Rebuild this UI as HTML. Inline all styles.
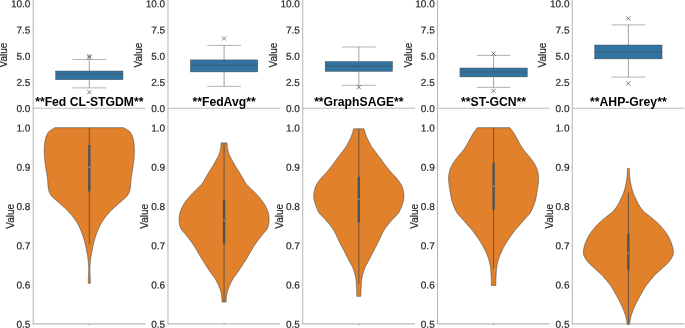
<!DOCTYPE html>
<html><head><meta charset="utf-8"><title>Chart</title>
<style>html,body{margin:0;padding:0;background:#fff;overflow:hidden}svg{display:block}</style>
</head><body>
<svg width="685" height="328" viewBox="0 0 685 328" font-family="'Liberation Sans', Arial, sans-serif">
<rect width="685" height="328" fill="#fff"/>
<g>
<path d="M33.22 0V324.4" stroke="#b4b4b4" stroke-width="1.0" fill="none"/>
<path d="M33.22 108.3H145.42M33.22 323.9H145.42" stroke="#bcbcbc" stroke-width="1.1" fill="none"/>
<clipPath id="c0"><rect x="33.22" y="108.3" width="112.2" height="216.5"/></clipPath>
<g clip-path="url(#c0)">
<path d="M54.92 127.7 L54.2 128.14 L53.46 128.58 L52.7 129.01 L51.95 129.45 L51.22 129.89 L50.53 130.34 L49.89 130.81 L49.32 131.3 L48.82 131.8 L48.37 132.31 L47.97 132.83 L47.61 133.36 L47.29 133.9 L46.98 134.48 L46.7 135.07 L46.42 135.7 L46.16 136.37 L45.93 137.07 L45.72 137.81 L45.53 138.56 L45.36 139.33 L45.2 140.1 L45.05 140.86 L44.92 141.6 L44.8 142.33 L44.69 143.05 L44.6 143.78 L44.53 144.5 L44.46 145.22 L44.41 145.95 L44.36 146.67 L44.32 147.4 L44.29 148.13 L44.27 148.87 L44.26 149.61 L44.26 150.35 L44.27 151.09 L44.28 151.83 L44.3 152.57 L44.32 153.3 L44.34 154.03 L44.36 154.75 L44.39 155.48 L44.42 156.2 L44.46 156.92 L44.5 157.65 L44.56 158.37 L44.62 159.1 L44.7 159.84 L44.79 160.6 L44.89 161.37 L45 162.13 L45.11 162.89 L45.22 163.62 L45.33 164.33 L45.42 165 L45.5 165.63 L45.58 166.23 L45.65 166.79 L45.72 167.34 L45.79 167.88 L45.86 168.41 L45.94 168.95 L46.02 169.5 L46.11 170.05 L46.21 170.57 L46.31 171.1 L46.41 171.62 L46.51 172.15 L46.62 172.7 L46.72 173.28 L46.82 173.9 L46.92 174.56 L47.03 175.25 L47.14 175.97 L47.24 176.71 L47.35 177.46 L47.45 178.21 L47.54 178.96 L47.62 179.7 L47.69 180.43 L47.73 181.17 L47.77 181.91 L47.81 182.65 L47.84 183.39 L47.89 184.13 L47.94 184.87 L48.02 185.6 L48.11 186.35 L48.22 187.12 L48.33 187.91 L48.45 188.68 L48.58 189.43 L48.72 190.15 L48.87 190.81 L49.02 191.4 L49.18 191.91 L49.34 192.35 L49.52 192.73 L49.7 193.08 L49.88 193.41 L50.08 193.72 L50.3 194.05 L50.52 194.4 L50.73 194.75 L50.92 195.06 L51.1 195.37 L51.3 195.68 L51.54 196 L51.84 196.37 L52.23 196.8 L52.72 197.3 L53.33 197.89 L54.06 198.54 L54.87 199.26 L55.74 200.01 L56.65 200.79 L57.57 201.58 L58.46 202.35 L59.32 203.1 L60.16 203.84 L61.03 204.6 L61.9 205.37 L62.77 206.13 L63.62 206.89 L64.44 207.62 L65.21 208.33 L65.92 209 L66.56 209.63 L67.15 210.23 L67.69 210.79 L68.2 211.34 L68.69 211.88 L69.16 212.41 L69.64 212.95 L70.12 213.5 L70.61 214.05 L71.08 214.57 L71.54 215.1 L71.99 215.62 L72.45 216.15 L72.9 216.7 L73.36 217.28 L73.82 217.9 L74.3 218.56 L74.78 219.25 L75.28 219.97 L75.77 220.71 L76.26 221.46 L76.73 222.21 L77.19 222.96 L77.62 223.7 L78.03 224.43 L78.42 225.17 L78.8 225.91 L79.17 226.65 L79.52 227.39 L79.87 228.13 L80.2 228.87 L80.52 229.6 L80.83 230.33 L81.13 231.05 L81.41 231.78 L81.69 232.5 L81.96 233.22 L82.21 233.95 L82.47 234.67 L82.72 235.4 L82.97 236.13 L83.21 236.87 L83.44 237.61 L83.67 238.35 L83.89 239.09 L84.11 239.83 L84.32 240.57 L84.52 241.3 L84.72 242.04 L84.91 242.79 L85.1 243.54 L85.28 244.29 L85.46 245.03 L85.62 245.75 L85.78 246.44 L85.92 247.1 L86.05 247.72 L86.16 248.32 L86.27 248.9 L86.36 249.45 L86.45 249.98 L86.54 250.5 L86.63 251.01 L86.72 251.5 L86.81 251.96 L86.9 252.39 L86.99 252.78 L87.08 253.17 L87.16 253.56 L87.25 253.97 L87.33 254.41 L87.42 254.9 L87.51 255.44 L87.6 256.02 L87.7 256.63 L87.79 257.26 L87.88 257.9 L87.97 258.55 L88.05 259.18 L88.12 259.8 L88.19 260.4 L88.25 261 L88.3 261.6 L88.35 262.2 L88.4 262.8 L88.44 263.4 L88.48 264 L88.52 264.6 L88.56 265.21 L88.59 265.82 L88.63 266.43 L88.65 267.04 L88.68 267.66 L88.7 268.27 L88.71 268.89 L88.72 269.5 L88.72 270.11 L88.71 270.73 L88.69 271.34 L88.67 271.95 L88.65 272.56 L88.62 273.17 L88.6 273.79 L88.57 274.4 L88.54 275.02 L88.51 275.65 L88.47 276.28 L88.44 276.91 L88.4 277.54 L88.37 278.15 L88.34 278.74 L88.32 279.3 L88.31 279.84 L88.3 280.35 L88.3 280.84 L88.3 281.31 L88.31 281.78 L88.31 282.25 L88.32 282.72 L88.32 283.2 L90.32 283.2 L90.32 282.72 L90.33 282.25 L90.33 281.78 L90.34 281.31 L90.34 280.84 L90.34 280.35 L90.33 279.84 L90.32 279.3 L90.3 278.74 L90.27 278.15 L90.24 277.54 L90.2 276.91 L90.17 276.28 L90.13 275.65 L90.1 275.02 L90.07 274.4 L90.04 273.79 L90.02 273.17 L89.99 272.56 L89.97 271.95 L89.95 271.34 L89.93 270.73 L89.92 270.11 L89.92 269.5 L89.93 268.89 L89.94 268.27 L89.96 267.66 L89.99 267.04 L90.01 266.43 L90.05 265.82 L90.08 265.21 L90.12 264.6 L90.16 264 L90.2 263.4 L90.24 262.8 L90.29 262.2 L90.34 261.6 L90.39 261 L90.45 260.4 L90.52 259.8 L90.59 259.18 L90.67 258.55 L90.76 257.9 L90.85 257.26 L90.94 256.63 L91.04 256.02 L91.13 255.44 L91.22 254.9 L91.31 254.41 L91.39 253.97 L91.48 253.56 L91.56 253.17 L91.65 252.78 L91.74 252.39 L91.83 251.96 L91.92 251.5 L92.01 251.01 L92.1 250.5 L92.19 249.98 L92.28 249.45 L92.37 248.9 L92.48 248.32 L92.59 247.72 L92.72 247.1 L92.86 246.44 L93.02 245.75 L93.18 245.03 L93.36 244.29 L93.54 243.54 L93.73 242.79 L93.92 242.04 L94.12 241.3 L94.32 240.57 L94.53 239.83 L94.75 239.09 L94.97 238.35 L95.2 237.61 L95.43 236.87 L95.67 236.13 L95.92 235.4 L96.17 234.67 L96.43 233.95 L96.68 233.22 L96.95 232.5 L97.23 231.78 L97.51 231.05 L97.81 230.33 L98.12 229.6 L98.44 228.87 L98.77 228.13 L99.12 227.39 L99.47 226.65 L99.84 225.91 L100.22 225.17 L100.61 224.43 L101.02 223.7 L101.45 222.96 L101.91 222.21 L102.38 221.46 L102.87 220.71 L103.36 219.97 L103.86 219.25 L104.34 218.56 L104.82 217.9 L105.28 217.28 L105.74 216.7 L106.19 216.15 L106.64 215.62 L107.1 215.1 L107.56 214.57 L108.03 214.05 L108.52 213.5 L109 212.95 L109.48 212.41 L109.95 211.88 L110.44 211.34 L110.95 210.79 L111.49 210.23 L112.08 209.63 L112.72 209 L113.43 208.33 L114.2 207.62 L115.02 206.89 L115.87 206.13 L116.74 205.37 L117.61 204.6 L118.48 203.84 L119.32 203.1 L120.18 202.35 L121.07 201.58 L121.99 200.79 L122.89 200.01 L123.77 199.26 L124.58 198.54 L125.31 197.89 L125.92 197.3 L126.41 196.8 L126.8 196.37 L127.1 196 L127.34 195.68 L127.54 195.37 L127.72 195.06 L127.91 194.75 L128.12 194.4 L128.34 194.05 L128.56 193.72 L128.76 193.41 L128.94 193.08 L129.12 192.73 L129.3 192.35 L129.46 191.91 L129.62 191.4 L129.77 190.81 L129.92 190.15 L130.06 189.43 L130.19 188.68 L130.31 187.91 L130.42 187.12 L130.53 186.35 L130.62 185.6 L130.7 184.87 L130.75 184.13 L130.8 183.39 L130.83 182.65 L130.87 181.91 L130.91 181.17 L130.95 180.43 L131.02 179.7 L131.1 178.96 L131.19 178.21 L131.29 177.46 L131.39 176.71 L131.5 175.97 L131.61 175.25 L131.72 174.56 L131.82 173.9 L131.92 173.28 L132.02 172.7 L132.13 172.15 L132.23 171.62 L132.33 171.1 L132.43 170.57 L132.53 170.05 L132.62 169.5 L132.7 168.95 L132.78 168.41 L132.85 167.88 L132.92 167.34 L132.99 166.79 L133.06 166.23 L133.14 165.63 L133.22 165 L133.31 164.33 L133.42 163.62 L133.53 162.89 L133.64 162.13 L133.75 161.37 L133.85 160.6 L133.94 159.84 L134.02 159.1 L134.08 158.37 L134.14 157.65 L134.18 156.92 L134.22 156.2 L134.25 155.48 L134.28 154.75 L134.3 154.03 L134.32 153.3 L134.34 152.57 L134.36 151.83 L134.37 151.09 L134.38 150.35 L134.38 149.61 L134.37 148.87 L134.35 148.13 L134.32 147.4 L134.28 146.67 L134.23 145.95 L134.18 145.22 L134.11 144.5 L134.04 143.78 L133.95 143.05 L133.84 142.33 L133.72 141.6 L133.59 140.86 L133.44 140.1 L133.28 139.33 L133.11 138.56 L132.92 137.81 L132.71 137.07 L132.48 136.37 L132.22 135.7 L131.94 135.07 L131.66 134.48 L131.35 133.9 L131.03 133.36 L130.67 132.83 L130.27 132.31 L129.82 131.8 L129.32 131.3 L128.75 130.81 L128.11 130.34 L127.42 129.89 L126.69 129.45 L125.94 129.01 L125.18 128.58 L124.44 128.14 L123.72 127.7Z" fill="#e1812c" stroke="#4a4a4a" stroke-width="0.6" stroke-linejoin="round"/>
<line x1="89.32" x2="89.32" y1="127.7" y2="244.2" stroke="#4a4a4a" stroke-width="0.8"/>
<line x1="89.32" x2="89.32" y1="144.9" y2="191.6" stroke="#525252" stroke-width="2.4"/>
<circle cx="89.32" cy="167.2" r="0.62" fill="#fff" opacity="0.75"/>
</g>
<path d="M31.82 108.3H33.22M31.82 82.07H33.22M31.82 55.85H33.22M31.82 29.62H33.22M31.82 3.4H33.22M31.82 323.9H33.22M31.82 284.67H33.22M31.82 245.44H33.22M31.82 206.21H33.22M31.82 166.98H33.22M31.82 127.75H33.22" stroke="#cccccc" stroke-width="0.8" fill="none"/>
<path d="M89.32 323.7V325.3" stroke="#a0a0a0" stroke-width="0.9" fill="none"/>
<path d="M72.49 59.5H106.15M72.49 87.9H106.15" stroke="#aaa" stroke-width="0.9" fill="none"/>
<path d="M89.32 59.5V71M89.32 79.7V87.9" stroke="#888" stroke-width="0.8" fill="none"/>
<rect x="55.66" y="71" width="67.32" height="8.7" fill="#3274a1" stroke="#4a4a4a" stroke-width="0.45"/>
<path d="M55.66 74.4H122.98" stroke="#4a4a4a" stroke-width="0.6" fill="none"/>
<path d="M87.22 54L91.42 58.2M87.22 58.2L91.42 54M87.22 55.4L91.42 59.6M87.22 59.6L91.42 55.4M87.22 90.1L91.42 94.3M87.22 94.3L91.42 90.1" stroke="#3a3a3a" stroke-width="0.65" fill="none"/>
<g font-size="10" fill="#262626" stroke="#262626" stroke-width="0.2" text-anchor="end">
<text transform="translate(30.42 112.15) rotate(0.3)">0.0</text>
<text transform="translate(30.42 85.92) rotate(0.3)">2.5</text>
<text transform="translate(30.42 59.7) rotate(0.3)">5.0</text>
<text transform="translate(30.42 33.48) rotate(0.3)">7.5</text>
<text transform="translate(30.42 7.25) rotate(0.3)">10.0</text>
<text transform="translate(30.42 327.7) rotate(0.3)">0.5</text>
<text transform="translate(30.42 288.47) rotate(0.3)">0.6</text>
<text transform="translate(30.42 249.24) rotate(0.3)">0.7</text>
<text transform="translate(30.42 210.01) rotate(0.3)">0.8</text>
<text transform="translate(30.42 170.78) rotate(0.3)">0.9</text>
<text transform="translate(30.42 131.55) rotate(0.3)">1.0</text>
</g>
<text transform="translate(7.32 55) rotate(-90)" font-size="10" fill="#262626" stroke="#262626" stroke-width="0.2" text-anchor="middle">Value</text>
<text transform="translate(13.52 216.3) rotate(-90)" font-size="10" fill="#262626" stroke="#262626" stroke-width="0.2" text-anchor="middle">Value</text>
<text x="89.32" y="105.8" font-size="12.2" font-weight="bold" fill="#000" text-anchor="middle">**Fed CL-STGDM**</text>
</g>
<g>
<path d="M167.98 0V324.4" stroke="#b4b4b4" stroke-width="1.0" fill="none"/>
<path d="M167.98 108.3H280.18M167.98 323.9H280.18" stroke="#bcbcbc" stroke-width="1.1" fill="none"/>
<clipPath id="c1"><rect x="167.98" y="108.3" width="112.2" height="216.5"/></clipPath>
<g clip-path="url(#c1)">
<path d="M221.18 142.9 L221.11 143.64 L221.05 144.38 L221 145.12 L220.94 145.86 L220.88 146.59 L220.8 147.33 L220.7 148.07 L220.58 148.8 L220.44 149.53 L220.29 150.25 L220.12 150.98 L219.94 151.7 L219.73 152.42 L219.51 153.15 L219.26 153.87 L218.98 154.6 L218.67 155.33 L218.32 156.07 L217.94 156.81 L217.54 157.54 L217.12 158.28 L216.7 159.02 L216.29 159.76 L215.88 160.5 L215.48 161.24 L215.08 161.98 L214.67 162.72 L214.27 163.46 L213.86 164.19 L213.44 164.93 L213.01 165.67 L212.58 166.4 L212.14 167.13 L211.68 167.85 L211.21 168.58 L210.74 169.3 L210.27 170.02 L209.8 170.75 L209.34 171.47 L208.88 172.2 L208.43 172.93 L207.99 173.67 L207.56 174.41 L207.12 175.14 L206.69 175.88 L206.26 176.62 L205.82 177.36 L205.38 178.1 L204.95 178.84 L204.54 179.57 L204.14 180.31 L203.73 181.05 L203.3 181.79 L202.84 182.53 L202.34 183.26 L201.78 184 L201.15 184.74 L200.46 185.48 L199.72 186.22 L198.95 186.96 L198.17 187.69 L197.39 188.43 L196.62 189.17 L195.88 189.9 L195.16 190.63 L194.44 191.35 L193.72 192.08 L193.01 192.8 L192.31 193.52 L191.62 194.25 L190.94 194.97 L190.28 195.7 L189.63 196.43 L188.99 197.17 L188.36 197.91 L187.75 198.65 L187.15 199.39 L186.57 200.13 L186.01 200.87 L185.48 201.6 L184.97 202.33 L184.48 203.05 L184.02 203.78 L183.57 204.5 L183.14 205.22 L182.73 205.95 L182.35 206.67 L181.98 207.4 L181.63 208.13 L181.3 208.87 L180.99 209.61 L180.7 210.35 L180.44 211.09 L180.19 211.83 L179.97 212.57 L179.78 213.3 L179.61 214.03 L179.47 214.75 L179.35 215.48 L179.25 216.2 L179.18 216.92 L179.13 217.65 L179.1 218.37 L179.08 219.1 L179.09 219.84 L179.11 220.6 L179.16 221.37 L179.23 222.13 L179.32 222.89 L179.42 223.62 L179.54 224.33 L179.68 225 L179.83 225.63 L179.98 226.23 L180.15 226.79 L180.34 227.34 L180.55 227.88 L180.79 228.41 L181.06 228.95 L181.38 229.5 L181.74 230.05 L182.14 230.57 L182.58 231.1 L183.05 231.62 L183.54 232.15 L184.04 232.7 L184.56 233.28 L185.08 233.9 L185.61 234.56 L186.18 235.25 L186.76 235.97 L187.35 236.71 L187.94 237.46 L188.54 238.21 L189.12 238.96 L189.68 239.7 L190.23 240.43 L190.77 241.17 L191.32 241.91 L191.85 242.65 L192.37 243.39 L192.89 244.13 L193.39 244.87 L193.88 245.6 L194.35 246.33 L194.81 247.05 L195.25 247.78 L195.68 248.5 L196.11 249.22 L196.53 249.95 L196.95 250.67 L197.38 251.4 L197.81 252.13 L198.23 252.87 L198.65 253.61 L199.07 254.35 L199.49 255.09 L199.91 255.83 L200.34 256.57 L200.78 257.3 L201.23 258.03 L201.69 258.77 L202.16 259.5 L202.63 260.23 L203.1 260.96 L203.57 261.68 L204.03 262.39 L204.48 263.1 L204.91 263.79 L205.33 264.47 L205.75 265.13 L206.15 265.79 L206.57 266.46 L206.99 267.12 L207.42 267.8 L207.88 268.5 L208.36 269.22 L208.87 269.95 L209.38 270.7 L209.91 271.46 L210.44 272.21 L210.97 272.96 L211.48 273.69 L211.98 274.4 L212.47 275.09 L212.95 275.75 L213.43 276.41 L213.9 277.05 L214.37 277.69 L214.82 278.35 L215.26 279.01 L215.68 279.7 L216.09 280.41 L216.48 281.14 L216.86 281.87 L217.22 282.62 L217.58 283.37 L217.92 284.12 L218.26 284.86 L218.58 285.6 L218.9 286.33 L219.21 287.05 L219.51 287.78 L219.8 288.5 L220.07 289.22 L220.33 289.95 L220.57 290.67 L220.78 291.4 L220.97 292.14 L221.13 292.9 L221.28 293.66 L221.4 294.42 L221.52 295.17 L221.61 295.91 L221.7 296.62 L221.78 297.3 L221.84 297.94 L221.89 298.56 L221.91 299.15 L221.93 299.73 L221.94 300.29 L221.95 300.85 L221.96 301.42 L221.98 302 L226.18 302 L226.2 301.42 L226.21 300.85 L226.22 300.29 L226.23 299.73 L226.25 299.15 L226.27 298.56 L226.32 297.94 L226.38 297.3 L226.46 296.62 L226.55 295.91 L226.64 295.17 L226.75 294.42 L226.88 293.66 L227.03 292.9 L227.19 292.14 L227.38 291.4 L227.59 290.67 L227.83 289.95 L228.09 289.22 L228.36 288.5 L228.65 287.78 L228.95 287.05 L229.26 286.33 L229.58 285.6 L229.9 284.86 L230.24 284.12 L230.58 283.37 L230.94 282.62 L231.3 281.87 L231.68 281.14 L232.07 280.41 L232.48 279.7 L232.9 279.01 L233.34 278.35 L233.79 277.69 L234.25 277.05 L234.73 276.41 L235.21 275.75 L235.69 275.09 L236.18 274.4 L236.68 273.69 L237.19 272.96 L237.72 272.21 L238.25 271.46 L238.78 270.7 L239.29 269.95 L239.8 269.22 L240.28 268.5 L240.74 267.8 L241.17 267.12 L241.59 266.46 L242 265.79 L242.41 265.13 L242.83 264.47 L243.25 263.79 L243.68 263.1 L244.13 262.39 L244.59 261.68 L245.06 260.96 L245.53 260.23 L246 259.5 L246.47 258.77 L246.93 258.03 L247.38 257.3 L247.82 256.57 L248.25 255.83 L248.67 255.09 L249.09 254.35 L249.51 253.61 L249.93 252.87 L250.35 252.13 L250.78 251.4 L251.21 250.67 L251.63 249.95 L252.05 249.22 L252.48 248.5 L252.91 247.78 L253.35 247.05 L253.81 246.33 L254.28 245.6 L254.77 244.87 L255.27 244.13 L255.79 243.39 L256.31 242.65 L256.84 241.91 L257.39 241.17 L257.93 240.43 L258.48 239.7 L259.04 238.96 L259.62 238.21 L260.22 237.46 L260.81 236.71 L261.4 235.97 L261.98 235.25 L262.55 234.56 L263.08 233.9 L263.6 233.28 L264.12 232.7 L264.62 232.15 L265.11 231.62 L265.58 231.1 L266.02 230.57 L266.42 230.05 L266.78 229.5 L267.1 228.95 L267.37 228.41 L267.61 227.88 L267.82 227.34 L268.01 226.79 L268.18 226.23 L268.33 225.63 L268.48 225 L268.62 224.33 L268.74 223.62 L268.84 222.89 L268.93 222.13 L269 221.37 L269.05 220.6 L269.07 219.84 L269.08 219.1 L269.06 218.37 L269.03 217.65 L268.98 216.92 L268.9 216.2 L268.81 215.48 L268.69 214.75 L268.55 214.03 L268.38 213.3 L268.19 212.57 L267.97 211.83 L267.72 211.09 L267.45 210.35 L267.17 209.61 L266.86 208.87 L266.53 208.13 L266.18 207.4 L265.81 206.67 L265.43 205.95 L265.02 205.22 L264.59 204.5 L264.14 203.78 L263.68 203.05 L263.19 202.33 L262.68 201.6 L262.15 200.87 L261.59 200.13 L261.01 199.39 L260.41 198.65 L259.8 197.91 L259.17 197.17 L258.53 196.43 L257.88 195.7 L257.22 194.97 L256.54 194.25 L255.85 193.52 L255.15 192.8 L254.44 192.08 L253.72 191.35 L253 190.63 L252.28 189.9 L251.54 189.17 L250.77 188.43 L249.99 187.69 L249.2 186.96 L248.44 186.22 L247.7 185.48 L247.01 184.74 L246.38 184 L245.82 183.26 L245.32 182.53 L244.86 181.79 L244.43 181.05 L244.02 180.31 L243.62 179.57 L243.21 178.84 L242.78 178.1 L242.34 177.36 L241.9 176.62 L241.47 175.88 L241.04 175.14 L240.6 174.41 L240.17 173.67 L239.73 172.93 L239.28 172.2 L238.82 171.47 L238.36 170.75 L237.89 170.02 L237.42 169.3 L236.95 168.58 L236.48 167.85 L236.02 167.13 L235.58 166.4 L235.15 165.67 L234.72 164.93 L234.3 164.19 L233.89 163.46 L233.49 162.72 L233.08 161.98 L232.68 161.24 L232.28 160.5 L231.87 159.76 L231.46 159.02 L231.04 158.28 L230.62 157.54 L230.22 156.81 L229.84 156.07 L229.49 155.33 L229.18 154.6 L228.9 153.87 L228.65 153.15 L228.43 152.42 L228.22 151.7 L228.04 150.98 L227.87 150.25 L227.72 149.53 L227.58 148.8 L227.46 148.07 L227.36 147.33 L227.28 146.59 L227.22 145.86 L227.16 145.12 L227.11 144.38 L227.05 143.64 L226.98 142.9Z" fill="#e1812c" stroke="#4a4a4a" stroke-width="0.6" stroke-linejoin="round"/>
<line x1="224.08" x2="224.08" y1="142.9" y2="302" stroke="#4a4a4a" stroke-width="0.8"/>
<line x1="224.08" x2="224.08" y1="200.1" y2="243.4" stroke="#525252" stroke-width="2.4"/>
<circle cx="224.08" cy="220.6" r="0.62" fill="#fff" opacity="0.75"/>
</g>
<path d="M166.58 108.3H167.98M166.58 82.07H167.98M166.58 55.85H167.98M166.58 29.62H167.98M166.58 3.4H167.98M166.58 323.9H167.98M166.58 284.67H167.98M166.58 245.44H167.98M166.58 206.21H167.98M166.58 166.98H167.98M166.58 127.75H167.98" stroke="#cccccc" stroke-width="0.8" fill="none"/>
<path d="M224.08 323.7V325.3" stroke="#a0a0a0" stroke-width="0.9" fill="none"/>
<path d="M207.25 45.4H240.91M207.25 86.4H240.91" stroke="#aaa" stroke-width="0.9" fill="none"/>
<path d="M224.08 45.4V59.9M224.08 71.9V86.4" stroke="#888" stroke-width="0.8" fill="none"/>
<rect x="190.42" y="59.9" width="67.32" height="12" fill="#3274a1" stroke="#4a4a4a" stroke-width="0.45"/>
<path d="M190.42 65.3H257.74" stroke="#4a4a4a" stroke-width="0.6" fill="none"/>
<path d="M221.98 36.3L226.18 40.5M221.98 40.5L226.18 36.3" stroke="#3a3a3a" stroke-width="0.65" fill="none"/>
<g font-size="10" fill="#262626" stroke="#262626" stroke-width="0.2" text-anchor="end">
<text transform="translate(165.18 112.15) rotate(0.3)">0.0</text>
<text transform="translate(165.18 85.92) rotate(0.3)">2.5</text>
<text transform="translate(165.18 59.7) rotate(0.3)">5.0</text>
<text transform="translate(165.18 33.48) rotate(0.3)">7.5</text>
<text transform="translate(165.18 7.25) rotate(0.3)">10.0</text>
<text transform="translate(165.18 327.7) rotate(0.3)">0.5</text>
<text transform="translate(165.18 288.47) rotate(0.3)">0.6</text>
<text transform="translate(165.18 249.24) rotate(0.3)">0.7</text>
<text transform="translate(165.18 210.01) rotate(0.3)">0.8</text>
<text transform="translate(165.18 170.78) rotate(0.3)">0.9</text>
<text transform="translate(165.18 131.55) rotate(0.3)">1.0</text>
</g>
<text transform="translate(142.08 55) rotate(-90)" font-size="10" fill="#262626" stroke="#262626" stroke-width="0.2" text-anchor="middle">Value</text>
<text transform="translate(148.28 216.3) rotate(-90)" font-size="10" fill="#262626" stroke="#262626" stroke-width="0.2" text-anchor="middle">Value</text>
<text x="224.08" y="105.8" font-size="12.2" font-weight="bold" fill="#000" text-anchor="middle">**FedAvg**</text>
</g>
<g>
<path d="M302.74 0V324.4" stroke="#b4b4b4" stroke-width="1.0" fill="none"/>
<path d="M302.74 108.3H414.94M302.74 323.9H414.94" stroke="#bcbcbc" stroke-width="1.1" fill="none"/>
<clipPath id="c2"><rect x="302.74" y="108.3" width="112.2" height="216.5"/></clipPath>
<g clip-path="url(#c2)">
<path d="M353.74 128.8 L353.47 129.67 L353.2 130.55 L352.94 131.43 L352.67 132.31 L352.4 133.19 L352.13 134.05 L351.84 134.89 L351.54 135.7 L351.23 136.49 L350.91 137.25 L350.59 137.99 L350.26 138.72 L349.92 139.44 L349.57 140.16 L349.21 140.87 L348.84 141.6 L348.46 142.33 L348.08 143.05 L347.69 143.78 L347.3 144.5 L346.88 145.22 L346.46 145.95 L346.01 146.67 L345.54 147.4 L345.04 148.13 L344.52 148.87 L343.97 149.61 L343.41 150.35 L342.84 151.09 L342.27 151.83 L341.7 152.57 L341.14 153.3 L340.59 154.03 L340.04 154.75 L339.49 155.48 L338.93 156.2 L338.38 156.92 L337.83 157.65 L337.29 158.37 L336.74 159.1 L336.18 159.85 L335.61 160.64 L335.04 161.43 L334.47 162.22 L333.91 163 L333.38 163.73 L332.89 164.4 L332.44 165 L332.05 165.51 L331.71 165.95 L331.4 166.34 L331.12 166.68 L330.86 167 L330.6 167.32 L330.33 167.64 L330.04 168 L329.74 168.38 L329.44 168.75 L329.15 169.13 L328.85 169.51 L328.55 169.88 L328.25 170.26 L327.95 170.63 L327.64 171 L327.34 171.35 L327.07 171.66 L326.79 171.97 L326.52 172.28 L326.21 172.6 L325.88 172.97 L325.49 173.4 L325.04 173.9 L324.5 174.49 L323.89 175.14 L323.22 175.86 L322.52 176.61 L321.8 177.39 L321.1 178.18 L320.44 178.95 L319.84 179.7 L319.28 180.43 L318.74 181.17 L318.22 181.91 L317.73 182.65 L317.26 183.39 L316.82 184.13 L316.41 184.87 L316.04 185.6 L315.71 186.33 L315.42 187.05 L315.16 187.78 L314.93 188.5 L314.72 189.22 L314.54 189.95 L314.38 190.67 L314.24 191.4 L314.11 192.13 L314.01 192.87 L313.92 193.61 L313.86 194.35 L313.82 195.09 L313.8 195.83 L313.81 196.57 L313.84 197.3 L313.9 198.03 L313.98 198.75 L314.09 199.48 L314.23 200.2 L314.38 200.92 L314.55 201.65 L314.74 202.37 L314.94 203.1 L315.16 203.84 L315.41 204.6 L315.68 205.37 L315.96 206.13 L316.25 206.89 L316.55 207.62 L316.85 208.33 L317.14 209 L317.42 209.63 L317.68 210.23 L317.95 210.79 L318.22 211.34 L318.5 211.88 L318.81 212.41 L319.15 212.95 L319.54 213.5 L319.97 214.05 L320.44 214.57 L320.94 215.1 L321.47 215.62 L322.02 216.15 L322.58 216.7 L323.16 217.28 L323.74 217.9 L324.34 218.56 L324.97 219.25 L325.62 219.97 L326.28 220.71 L326.94 221.46 L327.59 222.21 L328.23 222.96 L328.84 223.7 L329.43 224.43 L330.02 225.17 L330.6 225.91 L331.17 226.65 L331.72 227.39 L332.25 228.13 L332.76 228.87 L333.24 229.6 L333.69 230.33 L334.12 231.05 L334.52 231.78 L334.9 232.5 L335.26 233.22 L335.62 233.95 L335.98 234.67 L336.34 235.4 L336.69 236.13 L337.04 236.87 L337.37 237.61 L337.7 238.35 L338.02 239.09 L338.35 239.83 L338.69 240.57 L339.04 241.3 L339.4 242.03 L339.77 242.75 L340.14 243.48 L340.52 244.2 L340.89 244.92 L341.28 245.65 L341.66 246.37 L342.04 247.1 L342.43 247.84 L342.83 248.6 L343.23 249.37 L343.64 250.13 L344.04 250.89 L344.43 251.62 L344.79 252.33 L345.14 253 L345.46 253.63 L345.75 254.23 L346.02 254.79 L346.28 255.34 L346.54 255.88 L346.8 256.41 L347.06 256.95 L347.34 257.5 L347.63 258.05 L347.91 258.57 L348.2 259.1 L348.49 259.62 L348.79 260.15 L349.09 260.7 L349.41 261.28 L349.74 261.9 L350.09 262.56 L350.47 263.25 L350.87 263.97 L351.27 264.71 L351.66 265.46 L352.05 266.21 L352.41 266.96 L352.74 267.7 L353.04 268.43 L353.33 269.17 L353.6 269.91 L353.85 270.65 L354.09 271.39 L354.32 272.13 L354.54 272.87 L354.74 273.6 L354.93 274.33 L355.11 275.05 L355.28 275.78 L355.43 276.5 L355.58 277.22 L355.71 277.95 L355.83 278.67 L355.94 279.4 L356.04 280.13 L356.12 280.87 L356.19 281.61 L356.25 282.35 L356.3 283.09 L356.35 283.83 L356.39 284.57 L356.44 285.3 L356.49 286.03 L356.53 286.77 L356.58 287.51 L356.62 288.24 L356.65 288.97 L356.68 289.69 L356.71 290.4 L356.74 291.1 L356.76 291.78 L356.78 292.44 L356.79 293.09 L356.8 293.74 L356.81 294.38 L356.82 295.01 L356.83 295.65 L356.84 296.3 L360.84 296.3 L360.85 295.65 L360.86 295.01 L360.87 294.38 L360.88 293.74 L360.89 293.09 L360.9 292.44 L360.92 291.78 L360.94 291.1 L360.97 290.4 L361 289.69 L361.03 288.97 L361.07 288.24 L361.1 287.51 L361.15 286.77 L361.19 286.03 L361.24 285.3 L361.29 284.57 L361.33 283.83 L361.38 283.09 L361.43 282.35 L361.49 281.61 L361.56 280.87 L361.64 280.13 L361.74 279.4 L361.85 278.67 L361.97 277.95 L362.1 277.22 L362.25 276.5 L362.4 275.78 L362.57 275.05 L362.75 274.33 L362.94 273.6 L363.14 272.87 L363.36 272.13 L363.59 271.39 L363.83 270.65 L364.08 269.91 L364.35 269.17 L364.64 268.43 L364.94 267.7 L365.27 266.96 L365.63 266.21 L366.02 265.46 L366.42 264.71 L366.82 263.97 L367.21 263.25 L367.59 262.56 L367.94 261.9 L368.27 261.28 L368.59 260.7 L368.89 260.15 L369.19 259.62 L369.48 259.1 L369.77 258.57 L370.05 258.05 L370.34 257.5 L370.62 256.95 L370.88 256.41 L371.14 255.88 L371.4 255.34 L371.66 254.79 L371.93 254.23 L372.22 253.63 L372.54 253 L372.89 252.33 L373.25 251.62 L373.64 250.89 L374.04 250.13 L374.45 249.37 L374.85 248.6 L375.25 247.84 L375.64 247.1 L376.02 246.37 L376.4 245.65 L376.79 244.92 L377.17 244.2 L377.54 243.48 L377.91 242.75 L378.28 242.03 L378.64 241.3 L378.99 240.57 L379.33 239.83 L379.66 239.09 L379.98 238.35 L380.31 237.61 L380.64 236.87 L380.99 236.13 L381.34 235.4 L381.7 234.67 L382.06 233.95 L382.42 233.22 L382.78 232.5 L383.16 231.78 L383.56 231.05 L383.99 230.33 L384.44 229.6 L384.92 228.87 L385.43 228.13 L385.96 227.39 L386.52 226.65 L387.08 225.91 L387.66 225.17 L388.25 224.43 L388.84 223.7 L389.45 222.96 L390.09 222.21 L390.74 221.46 L391.4 220.71 L392.06 219.97 L392.71 219.25 L393.34 218.56 L393.94 217.9 L394.52 217.28 L395.1 216.7 L395.66 216.15 L396.21 215.62 L396.74 215.1 L397.24 214.57 L397.71 214.05 L398.14 213.5 L398.53 212.95 L398.87 212.41 L399.18 211.88 L399.47 211.34 L399.73 210.79 L400 210.23 L400.26 209.63 L400.54 209 L400.83 208.33 L401.13 207.62 L401.43 206.89 L401.72 206.13 L402 205.37 L402.27 204.6 L402.52 203.84 L402.74 203.1 L402.94 202.37 L403.13 201.65 L403.3 200.92 L403.45 200.2 L403.59 199.48 L403.7 198.75 L403.78 198.03 L403.84 197.3 L403.87 196.57 L403.88 195.83 L403.86 195.09 L403.82 194.35 L403.76 193.61 L403.67 192.87 L403.57 192.13 L403.44 191.4 L403.3 190.67 L403.14 189.95 L402.96 189.22 L402.75 188.5 L402.52 187.78 L402.26 187.05 L401.97 186.33 L401.64 185.6 L401.27 184.87 L400.86 184.13 L400.42 183.39 L399.95 182.65 L399.46 181.91 L398.94 181.17 L398.4 180.43 L397.84 179.7 L397.24 178.95 L396.58 178.18 L395.88 177.39 L395.17 176.61 L394.46 175.86 L393.79 175.14 L393.18 174.49 L392.64 173.9 L392.19 173.4 L391.8 172.97 L391.47 172.6 L391.17 172.28 L390.89 171.97 L390.62 171.66 L390.34 171.35 L390.04 171 L389.73 170.63 L389.43 170.26 L389.13 169.88 L388.83 169.51 L388.53 169.13 L388.24 168.75 L387.94 168.38 L387.64 168 L387.35 167.64 L387.08 167.32 L386.82 167 L386.56 166.68 L386.28 166.34 L385.97 165.95 L385.63 165.51 L385.24 165 L384.79 164.4 L384.3 163.73 L383.77 163 L383.22 162.22 L382.64 161.43 L382.07 160.64 L381.5 159.85 L380.94 159.1 L380.39 158.37 L379.85 157.65 L379.3 156.92 L378.75 156.2 L378.19 155.48 L377.64 154.75 L377.09 154.03 L376.54 153.3 L375.98 152.57 L375.41 151.83 L374.84 151.09 L374.27 150.35 L373.71 149.61 L373.16 148.87 L372.64 148.13 L372.14 147.4 L371.67 146.67 L371.22 145.95 L370.8 145.22 L370.38 144.5 L369.99 143.78 L369.6 143.05 L369.22 142.33 L368.84 141.6 L368.47 140.87 L368.11 140.16 L367.76 139.44 L367.42 138.72 L367.09 137.99 L366.77 137.25 L366.45 136.49 L366.14 135.7 L365.84 134.89 L365.55 134.05 L365.28 133.19 L365.01 132.31 L364.74 131.43 L364.48 130.55 L364.21 129.67 L363.94 128.8Z" fill="#e1812c" stroke="#4a4a4a" stroke-width="0.6" stroke-linejoin="round"/>
<line x1="358.84" x2="358.84" y1="128.8" y2="283.8" stroke="#4a4a4a" stroke-width="0.8"/>
<line x1="358.84" x2="358.84" y1="176.8" y2="222.2" stroke="#525252" stroke-width="2.4"/>
<circle cx="358.84" cy="199.2" r="0.62" fill="#fff" opacity="0.75"/>
</g>
<path d="M301.34 108.3H302.74M301.34 82.07H302.74M301.34 55.85H302.74M301.34 29.62H302.74M301.34 3.4H302.74M301.34 323.9H302.74M301.34 284.67H302.74M301.34 245.44H302.74M301.34 206.21H302.74M301.34 166.98H302.74M301.34 127.75H302.74" stroke="#cccccc" stroke-width="0.8" fill="none"/>
<path d="M358.84 323.7V325.3" stroke="#a0a0a0" stroke-width="0.9" fill="none"/>
<path d="M342.01 47H375.67M342.01 85.3H375.67" stroke="#aaa" stroke-width="0.9" fill="none"/>
<path d="M358.84 47V61.5M358.84 71.4V85.3" stroke="#888" stroke-width="0.8" fill="none"/>
<rect x="325.18" y="61.5" width="67.32" height="9.9" fill="#3274a1" stroke="#4a4a4a" stroke-width="0.45"/>
<path d="M325.18 66.2H392.5" stroke="#4a4a4a" stroke-width="0.6" fill="none"/>
<path d="M356.74 85.1L360.94 89.3M356.74 89.3L360.94 85.1" stroke="#3a3a3a" stroke-width="0.65" fill="none"/>
<g font-size="10" fill="#262626" stroke="#262626" stroke-width="0.2" text-anchor="end">
<text transform="translate(299.94 112.15) rotate(0.3)">0.0</text>
<text transform="translate(299.94 85.92) rotate(0.3)">2.5</text>
<text transform="translate(299.94 59.7) rotate(0.3)">5.0</text>
<text transform="translate(299.94 33.48) rotate(0.3)">7.5</text>
<text transform="translate(299.94 7.25) rotate(0.3)">10.0</text>
<text transform="translate(299.94 327.7) rotate(0.3)">0.5</text>
<text transform="translate(299.94 288.47) rotate(0.3)">0.6</text>
<text transform="translate(299.94 249.24) rotate(0.3)">0.7</text>
<text transform="translate(299.94 210.01) rotate(0.3)">0.8</text>
<text transform="translate(299.94 170.78) rotate(0.3)">0.9</text>
<text transform="translate(299.94 131.55) rotate(0.3)">1.0</text>
</g>
<text transform="translate(276.84 55) rotate(-90)" font-size="10" fill="#262626" stroke="#262626" stroke-width="0.2" text-anchor="middle">Value</text>
<text transform="translate(283.04 216.3) rotate(-90)" font-size="10" fill="#262626" stroke="#262626" stroke-width="0.2" text-anchor="middle">Value</text>
<text x="358.84" y="105.8" font-size="12.2" font-weight="bold" fill="#000" text-anchor="middle">**GraphSAGE**</text>
</g>
<g>
<path d="M437.5 0V324.4" stroke="#b4b4b4" stroke-width="1.0" fill="none"/>
<path d="M437.5 108.3H549.7M437.5 323.9H549.7" stroke="#bcbcbc" stroke-width="1.1" fill="none"/>
<clipPath id="c3"><rect x="437.5" y="108.3" width="112.2" height="216.5"/></clipPath>
<g clip-path="url(#c3)">
<path d="M477.3 127.7 L476.82 128.33 L476.34 128.96 L475.85 129.58 L475.37 130.21 L474.89 130.84 L474.41 131.48 L473.95 132.13 L473.5 132.8 L473.06 133.49 L472.64 134.2 L472.22 134.92 L471.81 135.65 L471.41 136.39 L471.01 137.13 L470.6 137.87 L470.2 138.6 L469.8 139.33 L469.41 140.07 L469.02 140.81 L468.64 141.54 L468.25 142.28 L467.85 143.02 L467.43 143.76 L467 144.5 L466.55 145.24 L466.1 145.98 L465.63 146.72 L465.16 147.46 L464.67 148.19 L464.16 148.93 L463.64 149.67 L463.1 150.4 L462.53 151.13 L461.93 151.85 L461.31 152.58 L460.68 153.3 L460.04 154.02 L459.41 154.75 L458.8 155.47 L458.2 156.2 L457.62 156.93 L457.04 157.67 L456.46 158.41 L455.89 159.15 L455.34 159.89 L454.8 160.63 L454.29 161.37 L453.8 162.1 L453.33 162.83 L452.88 163.55 L452.44 164.27 L452.03 164.99 L451.63 165.71 L451.26 166.44 L450.92 167.17 L450.6 167.9 L450.32 168.64 L450.06 169.39 L449.83 170.14 L449.62 170.9 L449.44 171.66 L449.28 172.41 L449.13 173.16 L449 173.9 L448.89 174.63 L448.79 175.36 L448.72 176.09 L448.66 176.81 L448.62 177.53 L448.6 178.25 L448.59 178.97 L448.6 179.7 L448.63 180.43 L448.67 181.17 L448.74 181.91 L448.82 182.65 L448.91 183.39 L449.01 184.13 L449.1 184.87 L449.2 185.6 L449.3 186.33 L449.4 187.05 L449.51 187.78 L449.62 188.5 L449.74 189.22 L449.86 189.95 L449.98 190.67 L450.1 191.4 L450.22 192.13 L450.33 192.87 L450.45 193.61 L450.56 194.35 L450.68 195.09 L450.81 195.83 L450.95 196.57 L451.1 197.3 L451.26 198.03 L451.42 198.75 L451.59 199.48 L451.76 200.2 L451.95 200.92 L452.15 201.65 L452.37 202.37 L452.6 203.1 L452.86 203.84 L453.14 204.6 L453.43 205.37 L453.74 206.13 L454.06 206.89 L454.38 207.62 L454.69 208.33 L455 209 L455.29 209.63 L455.56 210.23 L455.83 210.79 L456.1 211.34 L456.38 211.88 L456.69 212.41 L457.02 212.95 L457.4 213.5 L457.82 214.05 L458.26 214.57 L458.73 215.1 L459.23 215.62 L459.75 216.15 L460.29 216.7 L460.84 217.28 L461.4 217.9 L461.98 218.56 L462.6 219.25 L463.23 219.97 L463.88 220.71 L464.54 221.46 L465.2 222.21 L465.85 222.96 L466.5 223.7 L467.14 224.43 L467.79 225.17 L468.44 225.91 L469.09 226.65 L469.74 227.39 L470.37 228.13 L471 228.87 L471.6 229.6 L472.19 230.33 L472.76 231.05 L473.32 231.78 L473.87 232.5 L474.41 233.22 L474.94 233.95 L475.47 234.67 L476 235.4 L476.52 236.13 L477.04 236.87 L477.56 237.61 L478.06 238.35 L478.56 239.09 L479.05 239.83 L479.53 240.57 L480 241.3 L480.46 242.04 L480.92 242.79 L481.37 243.54 L481.81 244.29 L482.24 245.03 L482.65 245.75 L483.04 246.44 L483.4 247.1 L483.73 247.72 L484.04 248.3 L484.33 248.85 L484.59 249.39 L484.85 249.91 L485.1 250.43 L485.35 250.96 L485.6 251.5 L485.85 252.04 L486.1 252.57 L486.33 253.09 L486.57 253.61 L486.8 254.15 L487.03 254.7 L487.26 255.28 L487.5 255.9 L487.74 256.56 L487.99 257.25 L488.25 257.97 L488.5 258.71 L488.75 259.46 L488.98 260.21 L489.2 260.96 L489.4 261.7 L489.58 262.43 L489.75 263.17 L489.9 263.91 L490.04 264.65 L490.17 265.39 L490.29 266.13 L490.4 266.87 L490.5 267.6 L490.59 268.33 L490.67 269.05 L490.74 269.78 L490.8 270.5 L490.85 271.22 L490.9 271.95 L490.95 272.67 L491 273.4 L491.05 274.13 L491.09 274.86 L491.14 275.6 L491.18 276.33 L491.21 277.07 L491.24 277.81 L491.27 278.55 L491.3 279.3 L491.32 280.05 L491.34 280.81 L491.35 281.57 L491.36 282.34 L491.37 283.1 L491.38 283.87 L491.39 284.64 L491.4 285.4 L495.8 285.4 L495.81 284.64 L495.82 283.87 L495.83 283.1 L495.84 282.34 L495.85 281.57 L495.86 280.81 L495.88 280.05 L495.9 279.3 L495.93 278.55 L495.96 277.81 L495.99 277.07 L496.03 276.33 L496.06 275.6 L496.11 274.86 L496.15 274.13 L496.2 273.4 L496.25 272.67 L496.3 271.95 L496.35 271.22 L496.4 270.5 L496.46 269.78 L496.53 269.05 L496.61 268.33 L496.7 267.6 L496.8 266.87 L496.91 266.13 L497.03 265.39 L497.16 264.65 L497.3 263.91 L497.45 263.17 L497.62 262.43 L497.8 261.7 L498 260.96 L498.22 260.21 L498.45 259.46 L498.7 258.71 L498.95 257.97 L499.21 257.25 L499.46 256.56 L499.7 255.9 L499.94 255.28 L500.17 254.7 L500.4 254.15 L500.63 253.61 L500.87 253.09 L501.1 252.57 L501.35 252.04 L501.6 251.5 L501.85 250.96 L502.1 250.43 L502.35 249.91 L502.61 249.39 L502.87 248.85 L503.16 248.3 L503.47 247.72 L503.8 247.1 L504.16 246.44 L504.55 245.75 L504.96 245.03 L505.39 244.29 L505.83 243.54 L506.28 242.79 L506.74 242.04 L507.2 241.3 L507.67 240.57 L508.15 239.83 L508.64 239.09 L509.14 238.35 L509.64 237.61 L510.16 236.87 L510.68 236.13 L511.2 235.4 L511.73 234.67 L512.26 233.95 L512.79 233.22 L513.33 232.5 L513.88 231.78 L514.44 231.05 L515.01 230.33 L515.6 229.6 L516.2 228.87 L516.83 228.13 L517.46 227.39 L518.11 226.65 L518.76 225.91 L519.41 225.17 L520.06 224.43 L520.7 223.7 L521.35 222.96 L522 222.21 L522.66 221.46 L523.32 220.71 L523.97 219.97 L524.6 219.25 L525.22 218.56 L525.8 217.9 L526.36 217.28 L526.91 216.7 L527.45 216.15 L527.97 215.62 L528.47 215.1 L528.94 214.57 L529.38 214.05 L529.8 213.5 L530.18 212.95 L530.51 212.41 L530.82 211.88 L531.1 211.34 L531.37 210.79 L531.64 210.23 L531.91 209.63 L532.2 209 L532.51 208.33 L532.82 207.62 L533.14 206.89 L533.46 206.13 L533.77 205.37 L534.06 204.6 L534.34 203.84 L534.6 203.1 L534.83 202.37 L535.05 201.65 L535.25 200.92 L535.44 200.2 L535.61 199.48 L535.78 198.75 L535.94 198.03 L536.1 197.3 L536.25 196.57 L536.39 195.83 L536.52 195.09 L536.64 194.35 L536.75 193.61 L536.87 192.87 L536.98 192.13 L537.1 191.4 L537.22 190.67 L537.34 189.95 L537.46 189.22 L537.58 188.5 L537.69 187.78 L537.8 187.05 L537.9 186.33 L538 185.6 L538.1 184.87 L538.19 184.13 L538.29 183.39 L538.38 182.65 L538.46 181.91 L538.53 181.17 L538.57 180.43 L538.6 179.7 L538.61 178.97 L538.6 178.25 L538.58 177.53 L538.54 176.81 L538.48 176.09 L538.41 175.36 L538.31 174.63 L538.2 173.9 L538.07 173.16 L537.92 172.41 L537.76 171.66 L537.58 170.9 L537.37 170.14 L537.14 169.39 L536.88 168.64 L536.6 167.9 L536.28 167.17 L535.94 166.44 L535.57 165.71 L535.18 164.99 L534.76 164.27 L534.32 163.55 L533.87 162.83 L533.4 162.1 L532.91 161.37 L532.4 160.63 L531.86 159.89 L531.31 159.15 L530.74 158.41 L530.16 157.67 L529.58 156.93 L529 156.2 L528.4 155.47 L527.79 154.75 L527.16 154.02 L526.52 153.3 L525.89 152.58 L525.27 151.85 L524.67 151.13 L524.1 150.4 L523.56 149.67 L523.04 148.93 L522.53 148.19 L522.04 147.46 L521.57 146.72 L521.1 145.98 L520.65 145.24 L520.2 144.5 L519.77 143.76 L519.35 143.02 L518.95 142.28 L518.56 141.54 L518.18 140.81 L517.79 140.07 L517.4 139.33 L517 138.6 L516.6 137.87 L516.19 137.13 L515.79 136.39 L515.39 135.65 L514.98 134.92 L514.56 134.2 L514.14 133.49 L513.7 132.8 L513.25 132.13 L512.79 131.48 L512.31 130.84 L511.83 130.21 L511.35 129.58 L510.86 128.96 L510.38 128.33 L509.9 127.7Z" fill="#e1812c" stroke="#4a4a4a" stroke-width="0.6" stroke-linejoin="round"/>
<line x1="493.6" x2="493.6" y1="127.7" y2="268.7" stroke="#4a4a4a" stroke-width="0.8"/>
<line x1="493.6" x2="493.6" y1="162.8" y2="209.7" stroke="#525252" stroke-width="2.4"/>
<circle cx="493.6" cy="186.3" r="0.62" fill="#fff" opacity="0.75"/>
</g>
<path d="M436.1 108.3H437.5M436.1 82.07H437.5M436.1 55.85H437.5M436.1 29.62H437.5M436.1 3.4H437.5M436.1 323.9H437.5M436.1 284.67H437.5M436.1 245.44H437.5M436.1 206.21H437.5M436.1 166.98H437.5M436.1 127.75H437.5" stroke="#cccccc" stroke-width="0.8" fill="none"/>
<path d="M493.6 323.7V325.3" stroke="#a0a0a0" stroke-width="0.9" fill="none"/>
<path d="M476.77 55.4H510.43M476.77 87.4H510.43" stroke="#aaa" stroke-width="0.9" fill="none"/>
<path d="M493.6 55.4V68M493.6 76.9V87.4" stroke="#888" stroke-width="0.8" fill="none"/>
<rect x="459.94" y="68" width="67.32" height="8.9" fill="#3274a1" stroke="#4a4a4a" stroke-width="0.45"/>
<path d="M459.94 72H527.26" stroke="#4a4a4a" stroke-width="0.6" fill="none"/>
<path d="M491.5 51.5L495.7 55.7M491.5 55.7L495.7 51.5M491.5 88.7L495.7 92.9M491.5 92.9L495.7 88.7" stroke="#3a3a3a" stroke-width="0.65" fill="none"/>
<g font-size="10" fill="#262626" stroke="#262626" stroke-width="0.2" text-anchor="end">
<text transform="translate(434.7 112.15) rotate(0.3)">0.0</text>
<text transform="translate(434.7 85.92) rotate(0.3)">2.5</text>
<text transform="translate(434.7 59.7) rotate(0.3)">5.0</text>
<text transform="translate(434.7 33.48) rotate(0.3)">7.5</text>
<text transform="translate(434.7 7.25) rotate(0.3)">10.0</text>
<text transform="translate(434.7 327.7) rotate(0.3)">0.5</text>
<text transform="translate(434.7 288.47) rotate(0.3)">0.6</text>
<text transform="translate(434.7 249.24) rotate(0.3)">0.7</text>
<text transform="translate(434.7 210.01) rotate(0.3)">0.8</text>
<text transform="translate(434.7 170.78) rotate(0.3)">0.9</text>
<text transform="translate(434.7 131.55) rotate(0.3)">1.0</text>
</g>
<text transform="translate(411.6 55) rotate(-90)" font-size="10" fill="#262626" stroke="#262626" stroke-width="0.2" text-anchor="middle">Value</text>
<text transform="translate(417.8 216.3) rotate(-90)" font-size="10" fill="#262626" stroke="#262626" stroke-width="0.2" text-anchor="middle">Value</text>
<text x="493.6" y="105.8" font-size="12.2" font-weight="bold" fill="#000" text-anchor="middle">**ST-GCN**</text>
</g>
<g>
<path d="M572.26 0V324.4" stroke="#b4b4b4" stroke-width="1.0" fill="none"/>
<path d="M572.26 108.3H684.46M572.26 323.9H684.46" stroke="#bcbcbc" stroke-width="1.1" fill="none"/>
<clipPath id="c4"><rect x="572.26" y="108.3" width="112.2" height="216.5"/></clipPath>
<g clip-path="url(#c4)">
<path d="M627.46 168.4 L627.43 169.32 L627.4 170.26 L627.37 171.2 L627.34 172.14 L627.31 173.07 L627.27 173.97 L627.22 174.85 L627.16 175.7 L627.09 176.51 L627 177.28 L626.91 178.02 L626.82 178.74 L626.71 179.46 L626.6 180.16 L626.48 180.88 L626.36 181.6 L626.23 182.33 L626.1 183.05 L625.97 183.78 L625.82 184.5 L625.67 185.22 L625.51 185.95 L625.34 186.67 L625.16 187.4 L624.97 188.13 L624.77 188.87 L624.56 189.61 L624.35 190.35 L624.12 191.09 L623.88 191.83 L623.63 192.57 L623.36 193.3 L623.08 194.03 L622.78 194.75 L622.46 195.48 L622.13 196.2 L621.8 196.92 L621.46 197.65 L621.11 198.37 L620.76 199.1 L620.42 199.83 L620.08 200.56 L619.74 201.28 L619.4 202.01 L619.03 202.75 L618.65 203.49 L618.22 204.24 L617.76 205 L617.27 205.78 L616.76 206.57 L616.22 207.37 L615.66 208.18 L615.06 208.99 L614.41 209.8 L613.72 210.6 L612.96 211.4 L612.12 212.2 L611.2 212.99 L610.21 213.79 L609.18 214.58 L608.14 215.37 L607.1 216.16 L606.1 216.93 L605.16 217.7 L604.26 218.46 L603.37 219.21 L602.5 219.95 L601.65 220.68 L600.81 221.41 L600 222.14 L599.22 222.87 L598.46 223.6 L597.73 224.33 L597.03 225.05 L596.36 225.78 L595.7 226.5 L595.07 227.22 L594.45 227.95 L593.85 228.67 L593.26 229.4 L592.68 230.13 L592.11 230.87 L591.55 231.61 L591.02 232.35 L590.5 233.09 L590 233.83 L589.52 234.57 L589.06 235.3 L588.63 236.03 L588.22 236.75 L587.84 237.48 L587.47 238.2 L587.12 238.92 L586.79 239.65 L586.47 240.37 L586.16 241.1 L585.86 241.83 L585.57 242.57 L585.29 243.32 L585.03 244.06 L584.78 244.81 L584.55 245.54 L584.35 246.28 L584.16 247 L583.99 247.72 L583.83 248.45 L583.69 249.18 L583.57 249.91 L583.47 250.62 L583.4 251.31 L583.36 251.97 L583.36 252.6 L583.39 253.18 L583.44 253.71 L583.51 254.21 L583.62 254.69 L583.76 255.17 L583.94 255.67 L584.18 256.21 L584.46 256.8 L584.8 257.45 L585.18 258.14 L585.61 258.85 L586.09 259.59 L586.6 260.35 L587.15 261.11 L587.74 261.86 L588.36 262.6 L589.03 263.33 L589.76 264.07 L590.54 264.81 L591.35 265.54 L592.18 266.28 L593.01 267.02 L593.85 267.76 L594.66 268.5 L595.47 269.24 L596.31 269.98 L597.15 270.72 L597.99 271.46 L598.82 272.2 L599.64 272.94 L600.42 273.67 L601.16 274.4 L601.86 275.12 L602.52 275.83 L603.16 276.54 L603.77 277.25 L604.37 277.96 L604.97 278.67 L605.56 279.38 L606.16 280.1 L606.77 280.83 L607.38 281.56 L608 282.3 L608.6 283.04 L609.2 283.79 L609.78 284.53 L610.33 285.27 L610.86 286 L611.36 286.73 L611.83 287.46 L612.27 288.18 L612.7 288.91 L613.12 289.63 L613.53 290.35 L613.95 291.08 L614.36 291.8 L614.78 292.53 L615.19 293.25 L615.59 293.98 L615.99 294.7 L616.39 295.43 L616.78 296.15 L617.17 296.88 L617.56 297.6 L617.95 298.32 L618.33 299.05 L618.71 299.77 L619.09 300.49 L619.47 301.22 L619.84 301.94 L620.2 302.67 L620.56 303.4 L620.92 304.13 L621.27 304.87 L621.62 305.61 L621.97 306.35 L622.3 307.09 L622.63 307.83 L622.95 308.57 L623.26 309.3 L623.56 310.04 L623.85 310.8 L624.14 311.57 L624.42 312.32 L624.68 313.07 L624.93 313.79 L625.15 314.47 L625.36 315.1 L625.54 315.68 L625.7 316.23 L625.84 316.74 L625.96 317.23 L626.07 317.69 L626.17 318.13 L626.27 318.57 L626.36 319 L626.45 319.42 L626.52 319.83 L626.59 320.21 L626.65 320.59 L626.71 320.95 L626.76 321.31 L626.81 321.66 L626.86 322 L626.91 322.34 L626.95 322.66 L626.99 322.97 L627.02 323.28 L627.06 323.58 L627.09 323.89 L627.12 324.19 L627.16 324.5 L629.56 324.5 L629.6 324.19 L629.63 323.89 L629.66 323.58 L629.7 323.28 L629.73 322.97 L629.77 322.66 L629.81 322.34 L629.86 322 L629.91 321.66 L629.96 321.31 L630.01 320.95 L630.07 320.59 L630.13 320.21 L630.2 319.83 L630.27 319.42 L630.36 319 L630.45 318.57 L630.55 318.13 L630.65 317.69 L630.76 317.23 L630.88 316.74 L631.02 316.23 L631.18 315.68 L631.36 315.1 L631.57 314.47 L631.79 313.79 L632.04 313.07 L632.3 312.32 L632.58 311.57 L632.87 310.8 L633.16 310.04 L633.46 309.3 L633.77 308.57 L634.09 307.83 L634.42 307.09 L634.75 306.35 L635.1 305.61 L635.45 304.87 L635.8 304.13 L636.16 303.4 L636.52 302.67 L636.88 301.94 L637.25 301.22 L637.63 300.49 L638.01 299.77 L638.39 299.05 L638.77 298.32 L639.16 297.6 L639.55 296.88 L639.94 296.15 L640.33 295.43 L640.73 294.7 L641.13 293.98 L641.53 293.25 L641.94 292.53 L642.36 291.8 L642.77 291.08 L643.19 290.35 L643.6 289.63 L644.02 288.91 L644.45 288.18 L644.89 287.46 L645.36 286.73 L645.86 286 L646.39 285.27 L646.94 284.53 L647.52 283.79 L648.12 283.04 L648.72 282.3 L649.34 281.56 L649.95 280.83 L650.56 280.1 L651.16 279.38 L651.75 278.67 L652.35 277.96 L652.95 277.25 L653.56 276.54 L654.2 275.83 L654.86 275.12 L655.56 274.4 L656.3 273.67 L657.08 272.94 L657.9 272.2 L658.73 271.46 L659.57 270.72 L660.41 269.98 L661.25 269.24 L662.06 268.5 L662.87 267.76 L663.71 267.02 L664.54 266.28 L665.37 265.54 L666.18 264.81 L666.96 264.07 L667.69 263.33 L668.36 262.6 L668.98 261.86 L669.57 261.11 L670.12 260.35 L670.63 259.59 L671.11 258.85 L671.54 258.14 L671.92 257.45 L672.26 256.8 L672.54 256.21 L672.78 255.67 L672.96 255.17 L673.1 254.69 L673.21 254.21 L673.28 253.71 L673.33 253.18 L673.36 252.6 L673.36 251.97 L673.32 251.31 L673.25 250.62 L673.15 249.91 L673.03 249.18 L672.89 248.45 L672.73 247.72 L672.56 247 L672.37 246.28 L672.17 245.54 L671.94 244.81 L671.69 244.06 L671.43 243.32 L671.15 242.57 L670.86 241.83 L670.56 241.1 L670.25 240.37 L669.93 239.65 L669.6 238.92 L669.25 238.2 L668.88 237.48 L668.5 236.75 L668.09 236.03 L667.66 235.3 L667.2 234.57 L666.72 233.83 L666.22 233.09 L665.7 232.35 L665.17 231.61 L664.61 230.87 L664.04 230.13 L663.46 229.4 L662.87 228.67 L662.27 227.95 L661.65 227.22 L661.02 226.5 L660.36 225.78 L659.69 225.05 L658.99 224.33 L658.26 223.6 L657.5 222.87 L656.72 222.14 L655.91 221.41 L655.07 220.68 L654.22 219.95 L653.35 219.21 L652.46 218.46 L651.56 217.7 L650.62 216.93 L649.62 216.16 L648.58 215.37 L647.54 214.58 L646.51 213.79 L645.52 212.99 L644.6 212.2 L643.76 211.4 L643 210.6 L642.31 209.8 L641.66 208.99 L641.06 208.18 L640.5 207.37 L639.96 206.57 L639.45 205.78 L638.96 205 L638.5 204.24 L638.07 203.49 L637.69 202.75 L637.32 202.01 L636.98 201.28 L636.64 200.56 L636.3 199.83 L635.96 199.1 L635.61 198.37 L635.26 197.65 L634.92 196.92 L634.59 196.2 L634.26 195.48 L633.94 194.75 L633.64 194.03 L633.36 193.3 L633.09 192.57 L632.84 191.83 L632.6 191.09 L632.37 190.35 L632.16 189.61 L631.95 188.87 L631.75 188.13 L631.56 187.4 L631.38 186.67 L631.21 185.95 L631.05 185.22 L630.9 184.5 L630.75 183.78 L630.62 183.05 L630.49 182.33 L630.36 181.6 L630.24 180.88 L630.12 180.16 L630.01 179.46 L629.9 178.74 L629.81 178.02 L629.72 177.28 L629.63 176.51 L629.56 175.7 L629.5 174.85 L629.45 173.97 L629.41 173.07 L629.38 172.14 L629.35 171.2 L629.32 170.26 L629.29 169.32 L629.26 168.4Z" fill="#e1812c" stroke="#4a4a4a" stroke-width="0.6" stroke-linejoin="round"/>
<line x1="628.36" x2="628.36" y1="192.6" y2="324.5" stroke="#4a4a4a" stroke-width="0.8"/>
<line x1="628.36" x2="628.36" y1="233.8" y2="269.7" stroke="#525252" stroke-width="2.4"/>
<circle cx="628.36" cy="253.1" r="0.62" fill="#fff" opacity="0.75"/>
</g>
<path d="M570.86 108.3H572.26M570.86 82.07H572.26M570.86 55.85H572.26M570.86 29.62H572.26M570.86 3.4H572.26M570.86 323.9H572.26M570.86 284.67H572.26M570.86 245.44H572.26M570.86 206.21H572.26M570.86 166.98H572.26M570.86 127.75H572.26" stroke="#cccccc" stroke-width="0.8" fill="none"/>
<path d="M628.36 323.7V325.3" stroke="#a0a0a0" stroke-width="0.9" fill="none"/>
<path d="M611.53 24.9H645.19M611.53 77.1H645.19" stroke="#aaa" stroke-width="0.9" fill="none"/>
<path d="M628.36 24.9V45M628.36 58.9V77.1" stroke="#888" stroke-width="0.8" fill="none"/>
<rect x="594.7" y="45" width="67.32" height="13.9" fill="#3274a1" stroke="#4a4a4a" stroke-width="0.45"/>
<path d="M594.7 52.3H662.02" stroke="#4a4a4a" stroke-width="0.6" fill="none"/>
<path d="M626.26 16.3L630.46 20.5M626.26 20.5L630.46 16.3M626.26 81.3L630.46 85.5M626.26 85.5L630.46 81.3" stroke="#3a3a3a" stroke-width="0.65" fill="none"/>
<g font-size="10" fill="#262626" stroke="#262626" stroke-width="0.2" text-anchor="end">
<text transform="translate(569.46 112.15) rotate(0.3)">0.0</text>
<text transform="translate(569.46 85.92) rotate(0.3)">2.5</text>
<text transform="translate(569.46 59.7) rotate(0.3)">5.0</text>
<text transform="translate(569.46 33.48) rotate(0.3)">7.5</text>
<text transform="translate(569.46 7.25) rotate(0.3)">10.0</text>
<text transform="translate(569.46 327.7) rotate(0.3)">0.5</text>
<text transform="translate(569.46 288.47) rotate(0.3)">0.6</text>
<text transform="translate(569.46 249.24) rotate(0.3)">0.7</text>
<text transform="translate(569.46 210.01) rotate(0.3)">0.8</text>
<text transform="translate(569.46 170.78) rotate(0.3)">0.9</text>
<text transform="translate(569.46 131.55) rotate(0.3)">1.0</text>
</g>
<text transform="translate(546.36 55) rotate(-90)" font-size="10" fill="#262626" stroke="#262626" stroke-width="0.2" text-anchor="middle">Value</text>
<text transform="translate(552.56 216.3) rotate(-90)" font-size="10" fill="#262626" stroke="#262626" stroke-width="0.2" text-anchor="middle">Value</text>
<text x="628.36" y="105.8" font-size="12.2" font-weight="bold" fill="#000" text-anchor="middle">**AHP-Grey**</text>
</g>
</svg>
</body></html>
